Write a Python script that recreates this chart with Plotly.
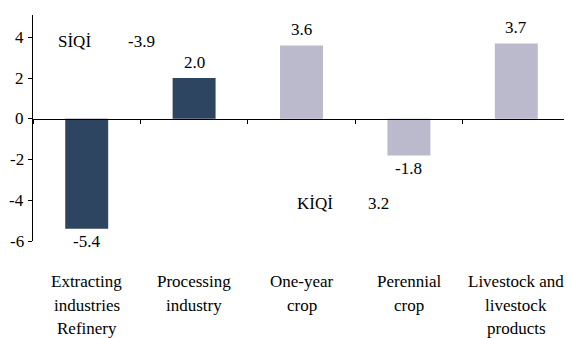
import plotly.graph_objects as go

categories = ["Extracting<br>industries<br>Refinery", "Processing<br>industry", "One-year<br>crop",
              "Perennial<br>crop", "Livestock and<br>livestock<br>products"]
values = [-5.4, 2.0, 3.6, -1.8, 3.7]
value_labels = ["-5.4", "2.0", "3.6", "-1.8", "3.7"]
bar_colors = ["#2E4562", "#2E4562", "#BBB9CC", "#BBB9CC", "#BBB9CC"]
y_ticks = [-6, -4, -2, 0, 2, 4]

# stray text labels in the chart (label, x category position, y value)
extra_texts = [("SİQİ", -0.11, 3.8), ("-3.9", 0.51, 3.8), ("KİQİ", 2.13, -4.15), ("3.2", 2.72, -4.15)]

FONT = "Liberation Serif"
FS = 17

x_idx = list(range(len(categories)))

fig = go.Figure(go.Bar(
    x=x_idx, y=values, width=0.4, marker=dict(color=bar_colors, line=dict(width=0)),
    cliponaxis=False, hoverinfo="skip",
))

annotations = []
for i, (v, lab) in enumerate(zip(values, value_labels)):
    annotations.append(dict(x=i, y=v, xref="x", yref="y", text=lab, showarrow=False,
                            yanchor="middle", yshift=16 if v >= 0 else -13,
                            font=dict(family=FONT, size=FS, color="black")))

for lab, xx, yy in extra_texts:
    annotations.append(dict(x=xx, y=yy, text=lab, showarrow=False, xref="x", yref="y",
                            font=dict(family=FONT, size=FS, color="black")))

for t in y_ticks:
    annotations.append(dict(x=0, y=t, xref="paper", yref="y", text=str(t), showarrow=False,
                            xanchor="right", yanchor="middle", xshift=-7,
                            font=dict(family=FONT, size=FS, color="black")))

for i, cat in enumerate(categories):
    for j, line in enumerate(cat.split("<br>")):
        annotations.append(dict(x=i, y=0, xref="x", yref="paper", text=line, showarrow=False,
                                yanchor="middle", yshift=-40.5 - 23.5 * j,
                                font=dict(family=FONT, size=FS, color="black")))

fig.update_layout(
    width=564, height=330,
    margin=dict(l=25, r=2, t=7, b=97),
    font=dict(family=FONT, size=FS, color="black"),
    paper_bgcolor="white", plot_bgcolor="white",
    showlegend=False,
    annotations=annotations,
    xaxis=dict(type="linear", range=[-0.5, 4.5], showgrid=False, zeroline=False,
               showticklabels=False, anchor="free", position=6 / 11.1,
               showline=True, linecolor="black", linewidth=1.3,
               ticks="outside", tickvals=[-0.5, 0.5, 1.5, 2.5, 3.5, 4.5], ticklen=4,
               tickcolor="black"),
    yaxis=dict(range=[-6, 5.1], tickvals=y_ticks, showticklabels=False,
               showgrid=False, zeroline=False, showline=True, linecolor="black", linewidth=1.3,
               ticks="outside", ticklen=4, tickcolor="black"),
)

fig.write_html("out.html")
